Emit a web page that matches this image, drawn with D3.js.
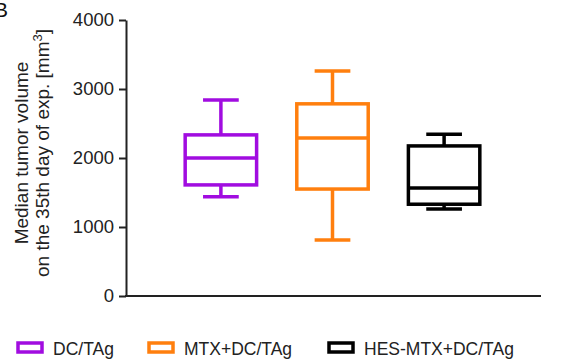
<!DOCTYPE html>
<html>
<head>
<meta charset="utf-8">
<script src="https://cdn.jsdelivr.net/npm/d3@7"></script>
<style>
  body { margin: 0; background: #fff; }
  text { font-family: "Liberation Sans", Arial, sans-serif; }
</style>
</head>
<body>
<div id="wrapper"></div>
<script>
var groups = ["DC/TAg", "MTX+DC/TAg", "HES-MTX+DC/TAg"];
var colors = ["#a10ce0", "#ff7f0e", "#000000"];
// min, q1, median, q3, max
var mins = [1440, 810, 1260];
var q1s = [1610, 1550, 1330];
var medians = [2000, 2290, 1565];
var q3s = [2335, 2785, 2175];
var maxs = [2840, 3260, 2345];
var yTicks = [0, 1000, 2000, 3000, 4000];

var width = 581, height = 361;
var svg = d3.select("#wrapper").append("svg")
    .attr("width", width)
    .attr("height", height);

var xScaler = d3.scaleBand()
    .domain(groups)
    .range([145, 520])
    .padding(0.36);
var yScaler = d3.scaleLinear()
    .domain([0, 4000])
    .range([296, 20]);

var yAxis = d3.axisLeft(yScaler).tickValues(yTicks).tickFormat(d3.format("d")).tickSize(7).tickSizeOuter(0);
var yg = svg.append("g")
    .attr("transform", "translate(126,0)")
    .call(yAxis);
yg.select(".domain").attr("stroke", "#222").attr("stroke-width", 2);
yg.selectAll(".tick line").attr("stroke", "#222").attr("stroke-width", 2);
yg.selectAll(".tick text").attr("font-size", 18.5).attr("fill", "#222").attr("x", -12);

// x axis line only
svg.append("line")
    .attr("x1", 125).attr("x2", 541)
    .attr("y1", yScaler(0)).attr("y2", yScaler(0))
    .attr("stroke", "#222").attr("stroke-width", 2);

var boxes = groups.map(function(g, i) {
    return {name: g, color: colors[i], min: mins[i], q1: q1s[i], med: medians[i], q3: q3s[i], max: maxs[i]};
});

var bw = xScaler.bandwidth();
var bg = svg.selectAll(".box").data(boxes).enter().append("g")
    .attr("transform", function(d) { return "translate(" + xScaler(d.name) + ",0)"; })
    .attr("stroke", function(d) { return d.color; })
    .attr("stroke-width", 3.5)
    .attr("fill", "none");

// whiskers
bg.append("line").attr("x1", bw/2).attr("x2", bw/2)
    .attr("y1", function(d) { return yScaler(d.max); })
    .attr("y2", function(d) { return yScaler(d.q3); });
bg.append("line").attr("x1", bw/2).attr("x2", bw/2)
    .attr("y1", function(d) { return yScaler(d.q1); })
    .attr("y2", function(d) { return yScaler(d.min); });
bg.append("line").attr("x1", bw/4).attr("x2", bw*3/4)
    .attr("y1", function(d) { return yScaler(d.max); })
    .attr("y2", function(d) { return yScaler(d.max); });
bg.append("line").attr("x1", bw/4).attr("x2", bw*3/4)
    .attr("y1", function(d) { return yScaler(d.min); })
    .attr("y2", function(d) { return yScaler(d.min); });
// box
bg.append("rect").attr("x", 0).attr("width", bw)
    .attr("y", function(d) { return yScaler(d.q3); })
    .attr("height", function(d) { return yScaler(d.q1) - yScaler(d.q3); })
    .attr("fill", "#fff");
// median
bg.append("line").attr("x1", 0).attr("x2", bw)
    .attr("y1", function(d) { return yScaler(d.med); })
    .attr("y2", function(d) { return yScaler(d.med); });

// y label
var yl = svg.append("text")
    .attr("transform", "translate(28,153) rotate(-90)")
    .attr("text-anchor", "middle")
    .attr("font-size", 19)
    .attr("fill", "#222");
yl.append("tspan").attr("x", 0).attr("dy", 0).text("Median tumor volume");
yl.append("tspan").attr("x", 0).attr("dy", 21).text("on the 35th day of exp. [mm");
yl.append("tspan").attr("dy", -7).attr("font-size", 13).text("3");
yl.append("tspan").attr("dy", 7).text("]");

// panel letter
svg.append("text")
    .attr("x", -6).attr("y", 17)
    .attr("font-size", 21)
    .attr("fill", "#111")
    .text("B");

// legend
var legX = [17, 148, 328];
var leg = svg.selectAll(".leg").data(boxes).enter().append("g")
    .attr("transform", function(d, i) { return "translate(" + legX[i] + ",342)"; });
leg.append("rect")
    .attr("x", 1).attr("y", 1).attr("width", 24).attr("height", 9)
    .attr("fill", "#fff")
    .attr("stroke", function(d) { return d.color; })
    .attr("stroke-width", 3.5);
leg.append("text")
    .attr("x", 36).attr("y", 13)
    .attr("font-size", 17.5)
    .attr("fill", "#222")
    .text(function(d) { return d.name; });
</script>
</body>
</html>
